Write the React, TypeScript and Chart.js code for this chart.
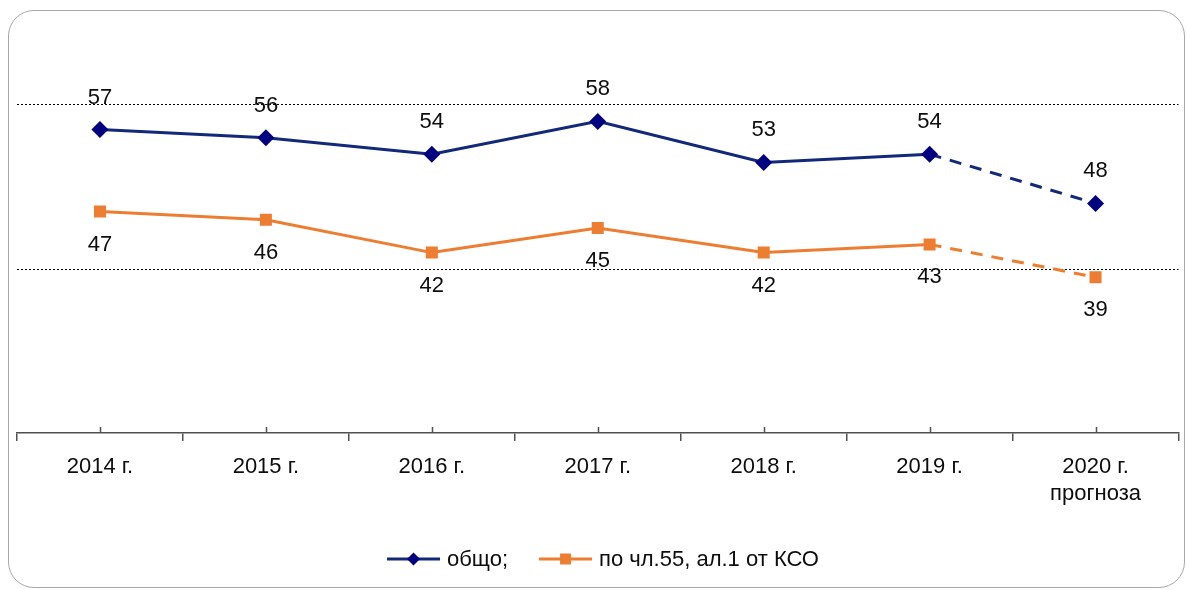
import React, { useEffect, useRef } from 'react';
import { Chart, registerables } from 'chart.js';

Chart.register(...registerables);

const categories: (string | string[])[] = [
  '2014 г.',
  '2015 г.',
  '2016 г.',
  '2017 г.',
  '2018 г.',
  '2019 г.',
  ['2020 г.', 'прогноза'],
];
const seriesNames = ['общо;', 'по чл.55, ал.1 от КСО'];
const totalValues = [57, 56, 54, 58, 53, 54, 48];
const art55Values = [47, 46, 42, 45, 42, 43, 39];
const gridValues = [40, 60];
const forecastIndex = 6;

const FONT = '"Liberation Sans", Arial, sans-serif';
const NAVY_LINE = '#12287a';
const NAVY_MARK = '#000080';
const ORANGE = '#ed7d31';
const AXIS = '#505050';
const TEXT = '#0d0d0d';

const decorPlugin = {
  id: 'decor',
  afterDatasetsDraw(chart: any) {
    const ctx = chart.ctx as CanvasRenderingContext2D;
    ctx.save();
    ctx.font = `22px ${FONT}`;
    ctx.fillStyle = TEXT;
    ctx.textAlign = 'center';
    ctx.textBaseline = 'middle';
    chart.data.datasets.forEach((ds: any, di: number) => {
      const meta = chart.getDatasetMeta(di);
      const off = di === 0 ? -32 : 33;
      meta.data.forEach((pt: any, i: number) => {
        ctx.fillText(String(ds.data[i]), pt.x, pt.y + off);
      });
    });
    ctx.restore();
  },
  afterDraw(chart: any) {
    const ctx = chart.ctx as CanvasRenderingContext2D;
    const xs = chart.scales.x;
    ctx.save();
    // small upward ticks at category centres
    ctx.strokeStyle = AXIS;
    ctx.lineWidth = 1.5;
    ctx.beginPath();
    categories.forEach((_, i) => {
      const px = Math.round(xs.getPixelForValue(i)) + 0.5;
      ctx.moveTo(px, xs.top);
      ctx.lineTo(px, xs.top - 6);
    });
    ctx.stroke();

    // legend
    ctx.font = `22px ${FONT}`;
    ctx.textBaseline = 'middle';
    ctx.textAlign = 'left';
    const lineLen = 53;
    const gapText = 7;
    const itemGap = 31;
    const y = 559;
    const items = chart.data.datasets.map((ds: any, i: number) => ({
      text: seriesNames[i],
      color: ds.borderColor,
      mark: ds.pointBackgroundColor,
      style: ds.pointStyle,
      w: lineLen + gapText + ctx.measureText(seriesNames[i]).width,
    }));
    const total = items.reduce((s: number, it: any) => s + it.w, 0) + itemGap * (items.length - 1);
    let x = 603 - total / 2;
    items.forEach((it: any) => {
      ctx.strokeStyle = it.color;
      ctx.lineWidth = 3;
      ctx.beginPath();
      ctx.moveTo(x, y);
      ctx.lineTo(x + lineLen, y);
      ctx.stroke();
      const cx = x + lineLen / 2;
      ctx.fillStyle = it.mark;
      ctx.beginPath();
      if (it.style === 'rectRot') {
        const r = 6.5;
        ctx.moveTo(cx, y - r);
        ctx.lineTo(cx + r, y);
        ctx.lineTo(cx, y + r);
        ctx.lineTo(cx - r, y);
        ctx.closePath();
      } else {
        const s = 5.5;
        ctx.rect(cx - s, y - s, 2 * s, 2 * s);
      }
      ctx.fill();
      ctx.fillStyle = TEXT;
      ctx.fillText(it.text, x + lineLen + gapText, y + 1);
      x += it.w + itemGap;
    });
    ctx.restore();
  },
};

export default function App() {
  const canvasRef = useRef<HTMLCanvasElement | null>(null);

  useEffect(() => {
    if (!canvasRef.current) return;
    const dash = (c: any) => (c.p1DataIndex === forecastIndex ? [12, 9] : undefined);
    const chart = new Chart(canvasRef.current, {
      type: 'line',
      data: {
        labels: categories,
        datasets: [
          {
            label: seriesNames[0],
            data: totalValues,
            borderColor: NAVY_LINE,
            backgroundColor: NAVY_MARK,
            pointBackgroundColor: NAVY_MARK,
            pointBorderColor: NAVY_MARK,
            pointBorderWidth: 0,
            pointStyle: 'rectRot',
            pointRadius: 8.5,
            borderWidth: 3,
            tension: 0,
            segment: { borderDash: dash },
          },
          {
            label: seriesNames[1],
            data: art55Values,
            borderColor: ORANGE,
            backgroundColor: ORANGE,
            pointBackgroundColor: ORANGE,
            pointBorderColor: ORANGE,
            pointBorderWidth: 0,
            pointStyle: 'rect',
            pointRadius: 8.5,
            borderWidth: 3,
            tension: 0,
            segment: { borderDash: dash },
          },
        ],
      },
      options: {
        responsive: false,
        animation: false,
        layout: { padding: { left: 17, right: 6, top: 23, bottom: 0 } },
        plugins: {
          legend: { display: false },
          tooltip: { enabled: false },
        },
        scales: {
          x: {
            offset: true,
            grid: {
              offset: true,
              drawOnChartArea: false,
              drawTicks: true,
              tickLength: 8,
              color: AXIS,
              lineWidth: 1.5,
            },
            border: { display: true, color: AXIS, width: 1.5 },
            ticks: {
              color: TEXT,
              font: { family: FONT, size: 22, lineHeight: 1.22 },
              padding: 13,
              maxRotation: 0,
              autoSkip: false,
            },
            afterFit: (scale: any) => {
              scale.height = 157;
            },
          },
          y: {
            min: 20,
            max: 70,
            ticks: { display: false, stepSize: 10 },
            grid: {
              drawTicks: false,
              lineWidth: 1,
              color: (c: any) => (gridValues.includes(c.tick?.value) ? '#000000' : 'rgba(0,0,0,0)'),
            },
            border: { display: false, dash: [2, 2] },
            afterFit: (scale: any) => {
              scale.width = 0;
            },
          },
        },
      },
      plugins: [decorPlugin],
    });
    return () => chart.destroy();
  }, []);

  return (
    <>
      <div
        style={{
          position: 'absolute',
          left: 8,
          top: 10,
          width: 1177,
          height: 578,
          boxSizing: 'border-box',
          border: '1.5px solid #a8a8a8',
          borderRadius: 26,
          background: '#ffffff',
        }}
      />
      <div style={{ position: 'absolute', left: 0, top: 0, width: 1187, height: 590 }}>
        <canvas ref={canvasRef} width={1187} height={590} style={{ display: 'block' }} />
      </div>
    </>
  );
}
